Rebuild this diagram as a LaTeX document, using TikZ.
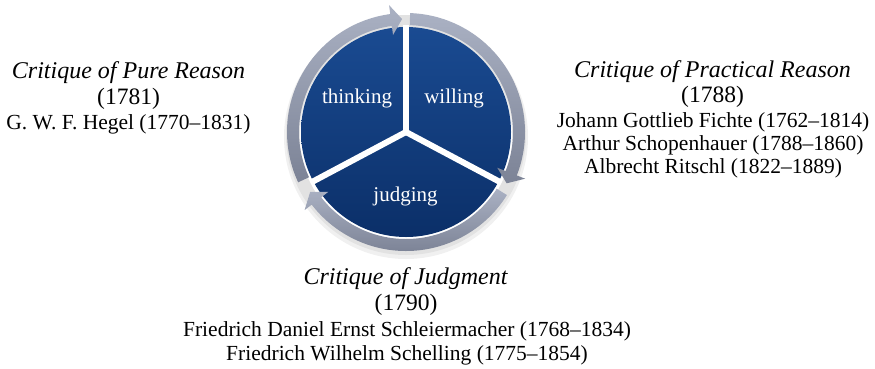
\documentclass[tikz,border=0pt]{standalone}
\usepackage{fontspec}
\setmainfont{Liberation Serif}
\definecolor{ringtop}{HTML}{AAB1C3}
\definecolor{ringbot}{HTML}{7C8396}
\definecolor{bluetop}{HTML}{1A4B92}
\definecolor{bluebot}{HTML}{0B2F68}
\begin{document}
\begin{tikzpicture}[x=1pt,y=1pt,
  ttltext/.style={anchor=base, inner sep=0pt, font=\fontsize{24}{26}\selectfont\itshape},
  yrtext/.style={anchor=base, inner sep=0pt, font=\fontsize{23.5}{26}\selectfont},
  nmtext/.style={anchor=base, inner sep=0pt, font=\fontsize{21.5}{24}\selectfont},
  pielbl/.style={font=\fontsize{21}{24}\selectfont, text=white, inner sep=0pt},
  ringseg/.style={top color=ringtop, bottom color=ringbot, draw=none},
  divider/.style={draw=white, line width=6pt}]
\useasboundingbox (0,0) rectangle (875,-368);
\begin{scope}[shift={(406,-132)}]
  % soft shadow under the ring
  \fill[black, opacity=0.06, even odd rule] (0,-5) circle[radius=122] (0,-5) circle[radius=106];
  \fill[black, opacity=0.06, even odd rule] (0,-3) circle[radius=120] (0,-3) circle[radius=107];
  % blue disc
  \shade[top color=bluetop, bottom color=bluebot] (0,0) circle[radius=105];
  \coordinate (c) at (0,0);
  \coordinate (d1) at (90:107);
  \coordinate (d2) at (-28:107);
  \coordinate (d3) at (208:107);
  \draw[divider] (c) -- (d1);
  \draw[divider] (c) -- (d2);
  \draw[divider] (c) -- (d3);
  % ring segments with arrow heads
  \path[ringseg] (205:119) arc[start angle=205, end angle=97.6, radius=119]
     -- (97.6:128) -- (92:113) -- (97.6:98) -- (97.6:107)
     arc[start angle=97.6, end angle=205, radius=107] -- cycle;
  \path[ringseg] (88:119) arc[start angle=88, end angle=-21.4, radius=119]
     -- (-21.4:128) -- (-27:113) -- (-21.4:98) -- (-21.4:107)
     arc[start angle=-21.4, end angle=88, radius=107] -- cycle;
  \path[ringseg] (-32:119) arc[start angle=-32, end angle=-142.4, radius=119]
     -- (-142.4:128) -- (-148:113) -- (-142.4:98) -- (-142.4:107)
     arc[start angle=-142.4, end angle=-32, radius=107] -- cycle;
\end{scope}
\node[pielbl] (thinking) at (357,-98) {thinking};
\node[pielbl] (willing) at (454,-98) {willing};
\node[pielbl] (judging) at (405.5,-196) {judging};
% left block
\node[ttltext] (pureT) at (128.5,-78) {Critique of Pure Reason};
\node[yrtext] (pureY) at (128.5,-104) {(1781)};
\node[nmtext] (hegel) at (128.5,-129) {G. W. F. Hegel (1770–1831)};
% right block
\node[ttltext] (pracT) at (712.5,-77) {Critique of Practical Reason};
\node[yrtext] (pracY) at (712.5,-102) {(1788)};
\node[nmtext] (fichte) at (713,-127) {Johann Gottlieb Fichte (1762–1814)};
\node[nmtext] (schop) at (713,-150) {Arthur Schopenhauer (1788–1860)};
\node[nmtext] (ritschl) at (713,-173) {Albrecht Ritschl (1822–1889)};
% bottom block
\node[ttltext] (judgT) at (405.5,-284) {Critique of Judgment};
\node[yrtext] (judgY) at (406,-310) {(1790)};
\node[nmtext] (schleier) at (407,-336) {Friedrich Daniel Ernst Schleiermacher (1768–1834)};
\node[nmtext] (schelling) at (407,-360) {Friedrich Wilhelm Schelling (1775–1854)};
\end{tikzpicture}
\end{document}
